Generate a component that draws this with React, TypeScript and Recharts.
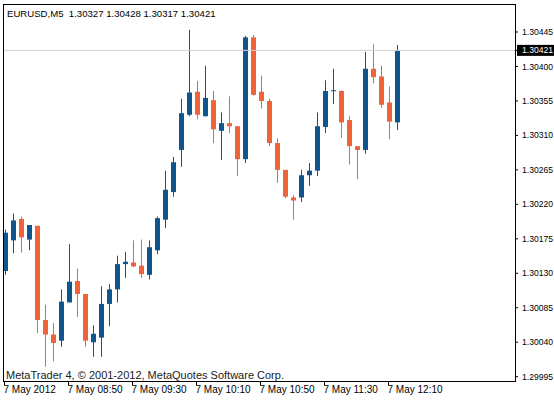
import { Bar, ComposedChart, ReferenceLine, XAxis, YAxis } from "recharts";

// EURUSD M5 candles, 7 May 2012 08:10 .. 12:15
const opens = [
  1.30133, 1.30173, 1.30201, 1.30174, 1.30192, 1.30069, 1.3005, 1.30042, 1.30092, 1.3012,
  1.30103, 1.3004, 1.30046, 1.3009, 1.30109, 1.30142, 1.30144, 1.3014, 1.30128, 1.3016,
  1.302, 1.30236, 1.30291, 1.30337, 1.30367, 1.30335, 1.30356, 1.30316, 1.30326, 1.30322,
  1.30279, 1.30438, 1.30367, 1.30355, 1.303, 1.30265, 1.30229, 1.30229, 1.30258, 1.30264,
  1.30321, 1.30368, 1.30368, 1.3033, 1.30296, 1.30291, 1.30397, 1.30387, 1.30353, 1.30327,
];
const highs = [
  1.30187, 1.30208, 1.30204, 1.30193, 1.30192, 1.30089, 1.30065, 1.30109, 1.30168, 1.30136,
  1.30103, 1.30062, 1.30113, 1.30116, 1.30153, 1.30158, 1.30173, 1.30174, 1.30173, 1.30204,
  1.30264, 1.30282, 1.30358, 1.30448, 1.30381, 1.30401, 1.30368, 1.3034, 1.30361, 1.30322,
  1.3044, 1.30441, 1.30388, 1.30358, 1.30306, 1.30265, 1.30232, 1.30265, 1.30274, 1.3034,
  1.30382, 1.30397, 1.30369, 1.30335, 1.30296, 1.30419, 1.30429, 1.30401, 1.30374, 1.30428,
];
const lows = [
  1.30128, 1.30156, 1.30157, 1.3016, 1.30052, 1.30008, 1.30015, 1.30034, 1.30092, 1.30073,
  1.30034, 1.30021, 1.30021, 1.30061, 1.30092, 1.30124, 1.30138, 1.30124, 1.30122, 1.30155,
  1.30189, 1.3023, 1.30269, 1.30335, 1.30331, 1.30335, 1.303, 1.30278, 1.30313, 1.30257,
  1.30274, 1.30362, 1.30345, 1.30296, 1.30248, 1.30228, 1.302, 1.30223, 1.30244, 1.30257,
  1.30313, 1.30351, 1.30307, 1.30272, 1.30253, 1.30286, 1.30378, 1.30346, 1.30305, 1.30317,
];
const closes = [
  1.30183, 1.30199, 1.30177, 1.30193, 1.30069, 1.3005, 1.30039, 1.30093, 1.30119, 1.30103,
  1.30042, 1.30051, 1.3009, 1.30109, 1.30142, 1.30145, 1.30139, 1.30129, 1.30164, 1.30202,
  1.30239, 1.30275, 1.30339, 1.30366, 1.30337, 1.30359, 1.30318, 1.30326, 1.30322, 1.30279,
  1.30438, 1.30363, 1.30355, 1.303, 1.30265, 1.3023, 1.30225, 1.30258, 1.30264, 1.30322,
  1.30368, 1.30369, 1.30327, 1.30296, 1.30291, 1.30397, 1.30386, 1.3035, 1.30328, 1.30421,
];

const timeTicks = [0, 8, 16, 24, 32, 40, 48];
const timeLabels = [
  "7 May 2012",
  "7 May 08:50",
  "7 May 09:30",
  "7 May 10:10",
  "7 May 10:50",
  "7 May 11:30",
  "7 May 12:10",
];
const priceTicks = [
  1.29995, 1.3004, 1.30085, 1.3013, 1.30175, 1.3022, 1.30265, 1.3031, 1.30355, 1.304, 1.30421,
  1.30445,
];
const lastPrice = 1.30421;

const BULL = "#11558f";
const BEAR = "#f0623a";
const FONT = "'Liberation Sans', Arial, sans-serif";

const data = opens.map((open, i) => ({
  i,
  open,
  high: highs[i],
  low: lows[i],
  close: closes[i],
}));

function Candle(props: any) {
  const { x, y, width, height } = props;
  const d = props.payload ?? props;
  const top = Math.min(y, y + height);
  const h = Math.abs(height);
  const perUnit = h / (d.high - d.low);
  const cx = Math.floor(x + width / 2) + 0.5;
  const bodyTop = top + (d.high - Math.max(d.open, d.close)) * perUnit;
  const bodyBot = top + (d.high - Math.min(d.open, d.close)) * perUnit;
  const color = d.close >= d.open ? BULL : BEAR;
  return (
    <g>
      <rect x={cx - 0.5} y={top} width={1} height={h} fill={color} />
      <rect
        x={cx - 2.5}
        y={bodyTop}
        width={5}
        height={Math.max(1, bodyBot - bodyTop)}
        fill={color}
      />
    </g>
  );
}

function TimeTick({ x, y, payload }: any) {
  const label = timeLabels[timeTicks.indexOf(payload.value)];
  return (
    <text x={x - 1} y={y + 6} textAnchor="start" fontSize={10} fontFamily={FONT} fill="#000">
      {label}
    </text>
  );
}

function PriceTick({ x, y, payload }: any) {
  const v = payload.value;
  const isLast = Math.abs(v - lastPrice) < 1e-9;
  return (
    <g>
      {isLast && <rect x={x - 5} y={y - 5.5} width={40} height={11} fill="#000" />}
      <text
        x={x}
        y={y}
        dy="0.355em"
        fontSize={8.6}
        fontFamily={FONT}
        fill={isLast ? "#fff" : "#000"}
      >
        {v.toFixed(5)}
      </text>
    </g>
  );
}

export default function App() {
  return (
    <div
      style={{
        position: "absolute",
        left: 0,
        top: 0,
        width: 554,
        height: 403,
        background: "#fff",
        fontFamily: FONT,
      }}
    >
      <ComposedChart
        width={554}
        height={403}
        data={data}
        margin={{ top: 4, right: 0, bottom: 0, left: 3 }}
      >
        <XAxis
          dataKey="i"
          type="number"
          domain={[-0.1875, 63.8125]}
          allowDataOverflow
          ticks={timeTicks}
          interval={0}
          height={22}
          axisLine={false}
          tickLine={{ stroke: "#000" }}
          tickSize={4}
          tickMargin={2}
          tick={<TimeTick />}
        />
        <YAxis
          orientation="right"
          type="number"
          domain={[1.2998939, 1.3048155]}
          allowDataOverflow
          ticks={priceTicks}
          interval={0}
          width={39}
          axisLine={false}
          tickLine={{ stroke: "#000" }}
          tickSize={3}
          tickMargin={4}
          tick={<PriceTick />}
        />
        <ReferenceLine y={lastPrice} stroke="#d2d2d2" strokeWidth={1} />
        <Bar
          dataKey={(d: any) => [d.low, d.high]}
          barSize={5}
          shape={<Candle />}
          isAnimationActive={false}
        />
      </ComposedChart>
      <div
        style={{
          position: "absolute",
          left: 3,
          top: 4,
          width: 513,
          height: 378,
          boxSizing: "border-box",
          border: "1px solid #000",
          pointerEvents: "none",
        }}
      />
      <div
        style={{
          position: "absolute",
          left: 7,
          top: 8,
          fontSize: 9.6,
          lineHeight: "12px",
          whiteSpace: "pre",
          color: "#000",
        }}
      >
        {"EURUSD,M5  1.30327 1.30428 1.30317 1.30421"}
      </div>
      <div
        style={{
          position: "absolute",
          left: 6,
          top: 369,
          fontSize: 11,
          lineHeight: "12px",
          whiteSpace: "pre",
          color: "#222",
        }}
      >
        MetaTrader 4, © 2001-2012, MetaQuotes Software Corp.
      </div>
    </div>
  );
}
